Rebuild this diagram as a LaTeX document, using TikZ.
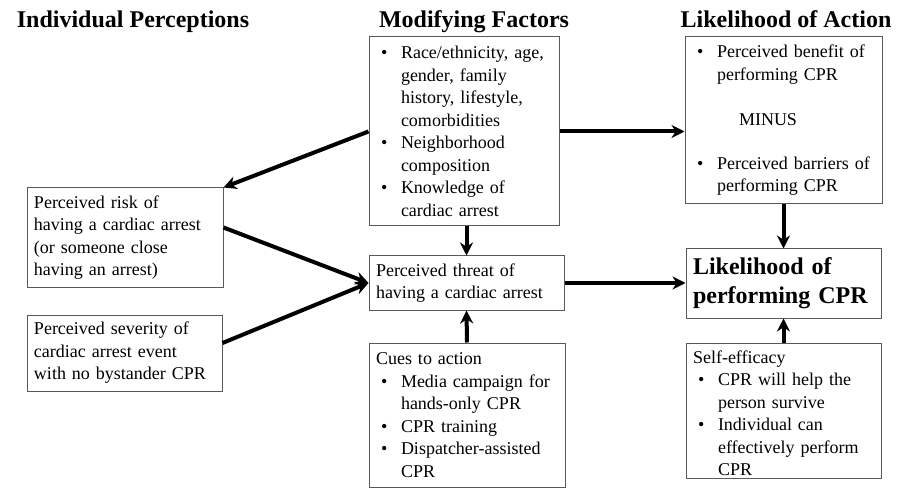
\documentclass[tikz,border=0pt]{standalone}
\usepackage{fontspec}
\setmainfont{Liberation Serif}
\usepackage{tikz}
\usetikzlibrary{calc, positioning, arrows.meta}
\tikzstyle{arrow} = [line width=4pt,-{Stealth[length=13pt,width=13pt]}]
\tikzstyle{box} = [draw=black!65, line width=1pt, align=left, inner xsep=7pt, inner ysep=0pt, font=\fontsize{18}{22.5}\selectfont]
\tikzstyle{heading} = [anchor=base, font=\fontsize{24}{28}\selectfont\bfseries]
\newcommand{\bitem}{\hspace*{5pt}\makebox[20pt][l]{\textbullet}}
\newcommand{\bind}{\hspace*{25pt}}

\begin{document}
\begin{tikzpicture}[x=1pt, y=-1pt]
    \useasboundingbox (0,0) rectangle (905,489);
    % column headings
    \node[heading] (hip) at (133,28) {Individual Perceptions};
    \node[heading] (hmf) at (474,28) {Modifying Factors};
    \node[heading] (hla) at (786,28) {Likelihood of Action};
    % boxes
    \node[box, text width=176pt, minimum height=189pt] (mf) at (464,131.5) {%
        \bitem Race/ethnicity, age,\\
        \bind gender, family\\
        \bind history, lifestyle,\\
        \bind comorbidities\\
        \bitem Neighborhood\\
        \bind composition\\
        \bitem Knowledge of\\
        \bind cardiac arrest};
    \node[box, text width=183pt, minimum height=167pt] (la) at (783.5,120.5) {%
        \bitem Perceived benefit of\\
        \bind performing CPR\\[23pt]
        \hspace*{47pt}MINUS\\[21pt]
        \bitem Perceived barriers of\\
        \bind performing CPR};
    \node[box, text width=182pt, minimum height=99pt] (risk) at (125,237.5) {%
        Perceived risk of\\
        having a cardiac arrest\\
        (or someone close\\
        having an arrest)};
    \node[box, text width=181pt, minimum height=76pt] (sev) at (124.5,353) {%
        Perceived severity of\\
        cardiac arrest event\\
        with no bystander CPR};
    \node[box, text width=181pt, minimum height=54pt] (threat) at (466.5,283) {%
        Perceived threat of\\
        having a cardiac arrest};
    \node[box, text width=182pt, minimum height=144pt] (cues) at (467,415) {%
        Cues to action\\
        \bitem Media campaign for\\
        \bind hands-only CPR\\
        \bitem CPR training\\
        \bitem Dispatcher-assisted\\
        \bind CPR};
    \node[box, text width=181pt, minimum height=69pt, font=\fontsize{24}{29}\selectfont\bfseries] (lk) at (783.5,283.5) {%
        Likelihood of\\
        performing CPR};
    \node[box, text width=181pt, minimum height=135pt] (se) at (783.5,410.5) {%
        \rule{0pt}{18pt}Self-efficacy\\
        \bitem CPR will help the\\
        \bind person survive\\
        \bitem Individual can\\
        \bind effectively perform\\
        \bind CPR};
    % connectors
    \draw[arrow] (mf.west) -- (risk.north east);
    \draw[arrow] ([yshift=10pt]risk.east) -- (threat.west);
    \draw[arrow] ([yshift=10pt]sev.east) -- (threat.west);
    \draw[arrow] (mf.east) -- (mf.east -| la.west);
    \draw[arrow] (threat.north |- mf.south) -- (threat.north);
    \draw[arrow] (cues.north) -- (threat.south);
    \draw[arrow] (threat.east) -- (threat.east -| lk.west);
    \draw[arrow] (la.south) -- (lk.north);
    \draw[arrow] (se.north) -- (lk.south);
\end{tikzpicture}
\end{document}
